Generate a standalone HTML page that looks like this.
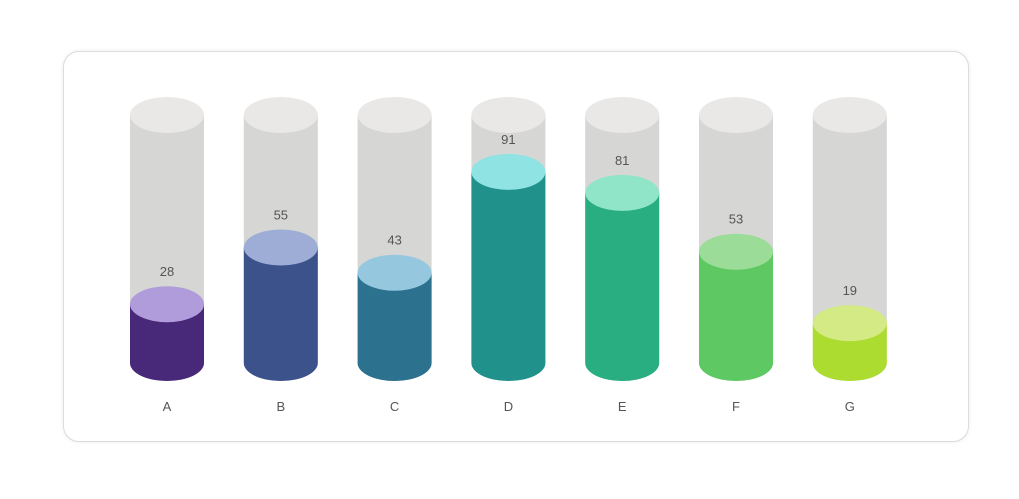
<!DOCTYPE html>
<html><head><meta charset="utf-8"><style>
html,body{margin:0;padding:0;background:#fff;width:1019px;height:499px;overflow:hidden;font-family:"Liberation Sans",sans-serif}
#card{position:absolute;left:63px;top:51px;width:904px;height:389px;border:1px solid #dcdcdc;border-radius:16px;box-shadow:0 0 4px rgba(0,0,0,0.08);background:#fff}
svg{position:absolute;left:0;top:0}
</style></head><body>
<div id="card"></div>
<svg id="chart" width="1019" height="499"></svg>
<script>
const categories = ["A","B","C","D","E","F","G"];
const values = [28,55,43,91,81,53,19];
const sideColors = ["#482878","#3b528b","#2c728e","#21918c","#28ae80","#5ec962","#addc30"];
const topColors = ["#b09bdb","#9dadd6","#95c8de","#8fe3e3","#90e5c8","#9bdd98","#d3ea85"];
const NS="http://www.w3.org/2000/svg";
const svg=document.getElementById('chart');
const baseY=363, topY=115, scale=2.1, rx=37, ry=18, x0=167, step=113.8;
function xPos(i){return x0+i*step;}
function yPos(v){return baseY-v*scale;}
function mk(t,a){const e=document.createElementNS(NS,t);for(const k in a)e.setAttribute(k,a[k]);svg.appendChild(e);return e;}
categories.forEach((c,i)=>{
  const cx=xPos(i), yt=yPos(values[i]);
  let e=mk('path',{d:`M${cx-rx},${topY} L${cx-rx},${baseY} A${rx},${ry} 0 0 0 ${cx+rx},${baseY} L${cx+rx},${topY} Z`,fill:'#d6d6d5'});
  
  
  e=mk('ellipse',{cx:cx,cy:topY,rx:rx,ry:ry,fill:'#e9e8e6'});
  
  
  e=mk('path',{d:`M${cx-rx},${yt} L${cx-rx},${baseY} A${rx},${ry} 0 0 0 ${cx+rx},${baseY} L${cx+rx},${yt} Z`,fill:sideColors[i]});
  
  
  e=mk('ellipse',{cx:cx,cy:yt,rx:rx,ry:ry,fill:topColors[i]});
  
  
  e=mk('text',{x:cx,y:yt-ry-10,'text-anchor':'middle','font-size':'13',fill:'#555'});
  e.textContent=values[i];
  
  
  e=mk('text',{x:cx,y:411,'text-anchor':'middle','font-size':'13',fill:'#555'});
  e.textContent=c;
  
  
});
</script>
</body></html>
